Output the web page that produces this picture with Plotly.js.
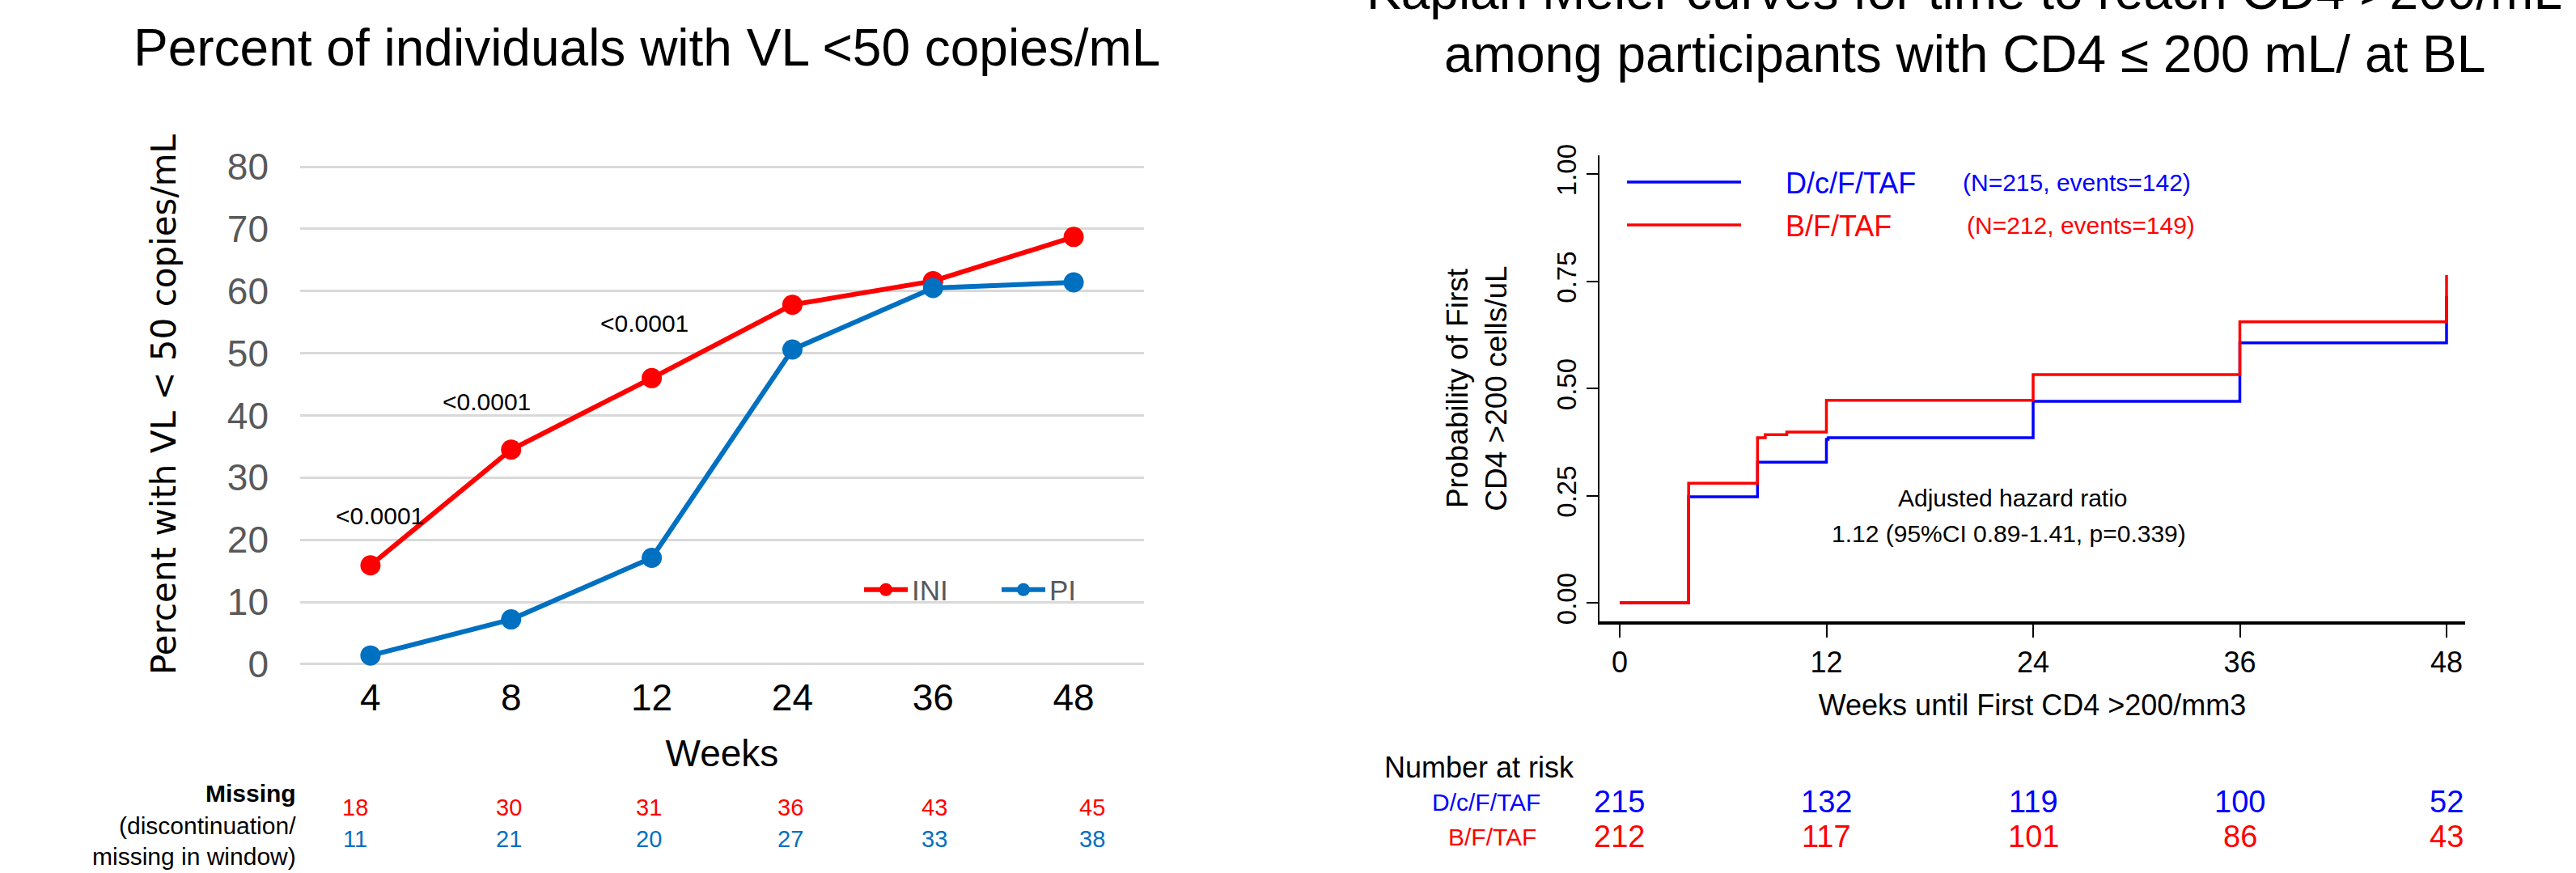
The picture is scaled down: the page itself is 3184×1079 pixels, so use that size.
<!DOCTYPE html>
<html><head><meta charset="utf-8">
<script src="https://cdn.plot.ly/plotly-3.0.1.min.js"></script>
<style>html,body{margin:0;padding:0;background:#fff}#chart{width:3184px;height:1079px}</style>
</head><body><div id="chart"></div>
<script>
// ---------- Left panel data ----------
const weeks = ['4', '8', '12', '24', '36', '48'];
const iniPct = [15.9, 34.5, 46.0, 57.8, 61.6, 68.7];
const piPct = [1.4, 7.2, 17.1, 50.6, 60.5, 61.4];
const pValueLabels = ['<0.0001', '<0.0001', '<0.0001'];
const missingINI = [18, 30, 31, 36, 43, 45];
const missingPI = [11, 21, 20, 27, 33, 38];
const leftYTicks = [0, 10, 20, 30, 40, 50, 60, 70, 80];

// ---------- Right panel data (Kaplan-Meier) ----------
const kmDcfWeeks = [0, 4, 8, 12, 12.1, 24, 36, 48];
const kmDcfProb = [0, 0.247, 0.328, 0.381, 0.385, 0.470, 0.606, 0.715];
const kmBfWeeks = [0, 4, 8, 8.45, 9.7, 12, 24, 36, 48];
const kmBfProb = [0, 0.279, 0.385, 0.392, 0.398, 0.472, 0.532, 0.655, 0.764];
const riskWeeks = [0, 12, 24, 36, 48];
const riskDcf = [215, 132, 119, 100, 52];
const riskBf = [212, 117, 101, 86, 43];
const kmYTicks = [0, 0.25, 0.5, 0.75, 1];

// ---------- layout helpers (pixel -> paper) ----------
const W = 3184, H = 1079;
const px = x => x / W;
const py = y => 1 - y / H;
const FONT = 'Liberation Sans, Arial, sans-serif';
const RED = '#FF0000', BLUE = '#0070C0', KBLUE = '#0000FF';
const GAP = '\u00A0\u00A0\u00A0\u00A0\u00A0';

const traces = [
  {x: weeks, y: iniPct, name: 'INI', type: 'scatter', mode: 'lines+markers',
   line: {color: RED, width: 6}, marker: {color: RED, size: 25},
   xaxis: 'x', yaxis: 'y', legend: 'legend'},
  {x: weeks, y: piPct, name: 'PI', type: 'scatter', mode: 'lines+markers',
   line: {color: BLUE, width: 6}, marker: {color: BLUE, size: 25},
   xaxis: 'x', yaxis: 'y', legend: 'legend'},
  {x: kmDcfWeeks, y: kmDcfProb, name: GAP + 'D/c/F/TAF', type: 'scatter', mode: 'lines',
   line: {color: KBLUE, width: 3.5, shape: 'hv'}, xaxis: 'x2', yaxis: 'y2', legend: 'legend2'},
  {x: kmBfWeeks, y: kmBfProb, name: GAP + 'B/F/TAF', type: 'scatter', mode: 'lines',
   line: {color: RED, width: 3.5, shape: 'hv'}, xaxis: 'x2', yaxis: 'y2', legend: 'legend3'}
];

const ann = [];
// titles
ann.push({text: 'Percent of individuals with VL <50 copies/mL', xref: 'paper', yref: 'paper',
  x: px(800), y: py(59), xanchor: 'center', yanchor: 'middle', showarrow: false,
  font: {family: FONT, size: 64, color: '#000'}});
ann.push({text: 'Kaplan Meier curves for time to reach CD4 >200/mL', xref: 'paper', yref: 'paper',
  x: px(2428), y: py(-11), xanchor: 'center', yanchor: 'middle', showarrow: false,
  font: {family: FONT, size: 64, color: '#000'}});
ann.push({text: 'among participants with CD4 \u2264 200 mL/ at BL', xref: 'paper', yref: 'paper',
  x: px(2428), y: py(67), xanchor: 'center', yanchor: 'middle', showarrow: false,
  font: {family: FONT, size: 64, color: '#000'}});
// p-values
const pvPos = [[469, 637], [601, 496], [796, 400]];
pValueLabels.forEach((t, i) => ann.push({text: t, xref: 'paper', yref: 'paper',
  x: px(pvPos[i][0]), y: py(pvPos[i][1]), xanchor: 'center', yanchor: 'middle', showarrow: false,
  font: {family: FONT, size: 30, color: '#000'}}));
// missing table
ann.push({text: '<b>Missing</b>', xref: 'paper', yref: 'paper', x: px(368), y: py(980),
  xanchor: 'right', yanchor: 'middle', showarrow: false, font: {family: FONT, size: 30, color: '#000'}});
ann.push({text: '(discontinuation/', xref: 'paper', yref: 'paper', x: px(368), y: py(1020),
  xanchor: 'right', yanchor: 'middle', showarrow: false, font: {family: FONT, size: 30, color: '#000'}});
ann.push({text: 'missing in window)', xref: 'paper', yref: 'paper', x: px(368), y: py(1058),
  xanchor: 'right', yanchor: 'middle', showarrow: false, font: {family: FONT, size: 30, color: '#000'}});
const missShift = [-19, -3, -4, -2, 2, 23];
weeks.forEach((w, i) => {
  ann.push({text: String(missingINI[i]), xref: 'x', yref: 'paper', x: i, xshift: missShift[i], y: py(998),
    xanchor: 'center', yanchor: 'middle', showarrow: false, font: {family: FONT, size: 29, color: RED}});
  ann.push({text: String(missingPI[i]), xref: 'x', yref: 'paper', x: i, xshift: missShift[i], y: py(1037),
    xanchor: 'center', yanchor: 'middle', showarrow: false, font: {family: FONT, size: 29, color: BLUE}});
});
// KM legend N labels
ann.push({text: '(N=215, events=142)', xref: 'paper', yref: 'paper', x: px(2424), y: py(225),
  xanchor: 'left', yanchor: 'middle', showarrow: false, font: {family: FONT, size: 30, color: KBLUE}});
ann.push({text: '(N=212, events=149)', xref: 'paper', yref: 'paper', x: px(2429), y: py(278),
  xanchor: 'left', yanchor: 'middle', showarrow: false, font: {family: FONT, size: 30, color: RED}});
// hazard ratio
ann.push({text: 'Adjusted hazard ratio', xref: 'paper', yref: 'paper', x: px(2488), y: py(615),
  xanchor: 'center', yanchor: 'middle', showarrow: false, font: {family: FONT, size: 30, color: '#000'}});
ann.push({text: '1.12 (95%CI 0.89-1.41, p=0.339)', xref: 'paper', yref: 'paper', x: px(2483), y: py(659),
  xanchor: 'center', yanchor: 'middle', showarrow: false, font: {family: FONT, size: 30, color: '#000'}});
// number at risk
ann.push({text: 'Number at risk', xref: 'paper', yref: 'paper', x: px(1709), y: py(948),
  xanchor: 'left', yanchor: 'middle', showarrow: false, font: {family: FONT, size: 36, color: '#000'}});
ann.push({text: 'D/c/F/TAF', xref: 'paper', yref: 'paper', x: px(1906), y: py(991),
  xanchor: 'right', yanchor: 'middle', showarrow: false, font: {family: FONT, size: 30, color: KBLUE}});
ann.push({text: 'B/F/TAF', xref: 'paper', yref: 'paper', x: px(1901), y: py(1034),
  xanchor: 'right', yanchor: 'middle', showarrow: false, font: {family: FONT, size: 30, color: RED}});
riskWeeks.forEach((w, i) => {
  ann.push({text: String(riskDcf[i]), xref: 'x2', yref: 'paper', x: w, y: py(991),
    xanchor: 'center', yanchor: 'middle', showarrow: false, font: {family: FONT, size: 38, color: KBLUE}});
  ann.push({text: String(riskBf[i]), xref: 'x2', yref: 'paper', x: w, y: py(1034),
    xanchor: 'center', yanchor: 'middle', showarrow: false, font: {family: FONT, size: 38, color: RED}});
});

const layout = {
  width: W, height: H,
  margin: {l: 0, r: 0, t: 0, b: 0},
  paper_bgcolor: '#fff', plot_bgcolor: 'rgba(0,0,0,0)',
  font: {family: FONT, color: '#000'},
  showlegend: true,
  xaxis: {
    domain: [px(371), px(1414)], anchor: 'y', type: 'category', range: [-0.5, 5.5],
    showgrid: false, zeroline: false, showline: false, ticks: '',
    tickfont: {family: FONT, size: 46, color: '#000'}, ticklabelstandoff: 6,
    title: {text: 'Weeks', font: {family: FONT, size: 46, color: '#000'}, standoff: 28}
  },
  yaxis: {
    domain: [py(824.8), py(175.25)], anchor: 'x', range: [-0.5, 84],
    tickvals: leftYTicks, showgrid: true, gridcolor: '#D9D9D9', gridwidth: 3,
    zeroline: false, showline: false, ticks: '',
    tickfont: {family: FONT, size: 46, color: '#595959'}, ticklabelstandoff: 38,
    title: {text: 'Percent with VL < 50 copies/mL', font: {family: 'DejaVu Sans', size: 42, color: '#000'}, standoff: 50}
  },
  xaxis2: {
    domain: [px(1977), px(3047)], anchor: 'y2', range: [-1.174, 49.08],
    tickvals: riskWeeks, showgrid: false, zeroline: false,
    showline: true, linecolor: '#000', linewidth: 3.5,
    ticks: 'outside', ticklen: 16, tickwidth: 2, tickcolor: '#000',
    tickfont: {family: FONT, size: 36, color: '#000'},
    title: {text: 'Weeks until First CD4 >200/mm3', font: {family: FONT, size: 36, color: '#000'}, standoff: 22}
  },
  yaxis2: {
    domain: [py(768), py(192)], anchor: 'x2', range: [-0.0434, 1.0434],
    tickvals: kmYTicks, tickformat: '.2f', tickangle: -90,
    showgrid: false, zeroline: false,
    showline: true, linecolor: '#000', linewidth: 2,
    ticks: 'outside', ticklen: 14, tickwidth: 2, tickcolor: '#000',
    tickfont: {family: FONT, size: 33, color: '#000'},
    title: {text: 'Probability of First<br>CD4 >200 cells/uL', font: {family: FONT, size: 37, color: '#000'}, standoff: 44}
  },
  legend: {orientation: 'h', x: px(1063), xanchor: 'left', y: py(729), yanchor: 'middle',
    font: {family: FONT, size: 35, color: '#595959'}, bgcolor: 'rgba(0,0,0,0)', itemwidth: 54,
    entrywidth: 101, entrywidthmode: 'pixels'},
  legend2: {x: px(2006), xanchor: 'left', y: py(225), yanchor: 'middle',
    font: {family: FONT, size: 36, color: KBLUE}, bgcolor: 'rgba(0,0,0,0)', itemwidth: 141},
  legend3: {x: px(2006), xanchor: 'left', y: py(278), yanchor: 'middle',
    font: {family: FONT, size: 36, color: RED}, bgcolor: 'rgba(0,0,0,0)', itemwidth: 141},
  annotations: ann
};

Plotly.newPlot('chart', traces, layout, {displayModeBar: false, staticPlot: true});
</script></body></html>
